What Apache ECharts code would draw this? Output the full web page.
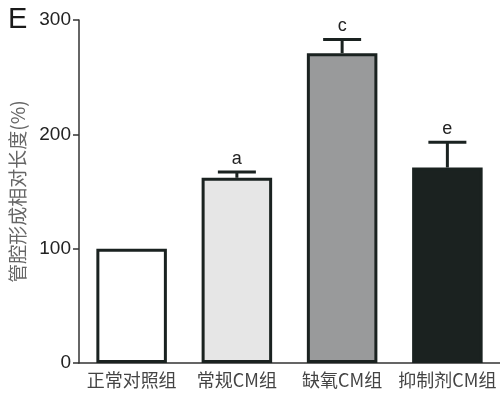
<!DOCTYPE html>
<html><head><meta charset="utf-8">
<script src="https://cdn.jsdelivr.net/npm/echarts@6/dist/echarts.min.js"></script>
<style>html,body{margin:0;padding:0;background:#fff}#c{width:500px;height:394px}</style>
</head><body><div id="c"></div>
<script>
const categories = ['正常对照组', '常规CM组', '缺氧CM组', '抑制剂CM组'];
const means = [100, 162, 271, 171];
const errors = [0, 5, 12, 22];
const sigLabels = ['', 'a', 'c', 'e'];
const barColors = ['#ffffff', '#e6e6e6', '#999a9b', '#1b2220'];
const yTicks = [0, 100, 200, 300];

const chart = echarts.init(document.getElementById('c'));
chart.setOption({
  animation: false,
  grid: {left: 79, right: 0, top: 20, bottom: 31},
  graphic: [{type: 'text', left: 8, top: 5, style: {text: 'E', font: '29px Liberation Sans, Arial', fill: '#1a1a1a'}}],
  xAxis: {
    type: 'category', data: categories,
    axisLine: {lineStyle: {color: '#333', width: 1.5}},
    axisTick: {show: false},
    axisLabel: {interval: 0, color: '#444', fontSize: 18, margin: 8, fontFamily: 'Noto Sans CJK SC'}
  },
  yAxis: {
    type: 'value', min: 0, max: 300, interval: 100,
    name: '管腔形成相对长度(%)', nameLocation: 'middle', nameRotate: 90, nameGap: 52,
    nameTextStyle: {color: '#666', fontSize: 19, fontFamily: 'Noto Sans CJK SC'},
    axisLine: {show: true, lineStyle: {color: '#333', width: 1.5}},
    axisTick: {show: true, length: 6, lineStyle: {color: '#333', width: 1.5}},
    axisLabel: {color: '#222', fontSize: 19, margin: 8, fontFamily: 'Liberation Sans, Arial',
      formatter: v => yTicks.includes(v) ? String(v) : ''},
    splitLine: {show: false}
  },
  series: [
    {
      type: 'bar', barWidth: '67%', z: 2,
      data: means.map((v, i) => ({value: v, itemStyle: {color: barColors[i]}})),
      itemStyle: {borderColor: '#1a2220', borderWidth: 3}
    },
    {
      type: 'custom', z: 3,
      data: means.map((v, i) => [i, v, errors[i], sigLabels[i]]),
      renderItem: (params, api) => {
        const i = api.value(0), m = api.value(1), e = api.value(2);
        if (!e) return null;
        const base = api.coord([i, m]);
        const top = api.coord([i, m + e]);
        const hw = 19;
        return {type: 'group', children: [
          {type: 'line', shape: {x1: top[0], y1: base[1], x2: top[0], y2: top[1]}, style: {stroke: '#1a2220', lineWidth: 3}},
          {type: 'line', shape: {x1: top[0] - hw, y1: top[1], x2: top[0] + hw, y2: top[1]}, style: {stroke: '#1a2220', lineWidth: 3}},
          {type: 'text', style: {text: sigLabels[i], x: top[0], y: top[1] - 4, align: 'center', verticalAlign: 'bottom', font: '18px Liberation Sans, Arial', fill: '#222'}}
        ]};
      }
    }
  ]
});
</script></body></html>
